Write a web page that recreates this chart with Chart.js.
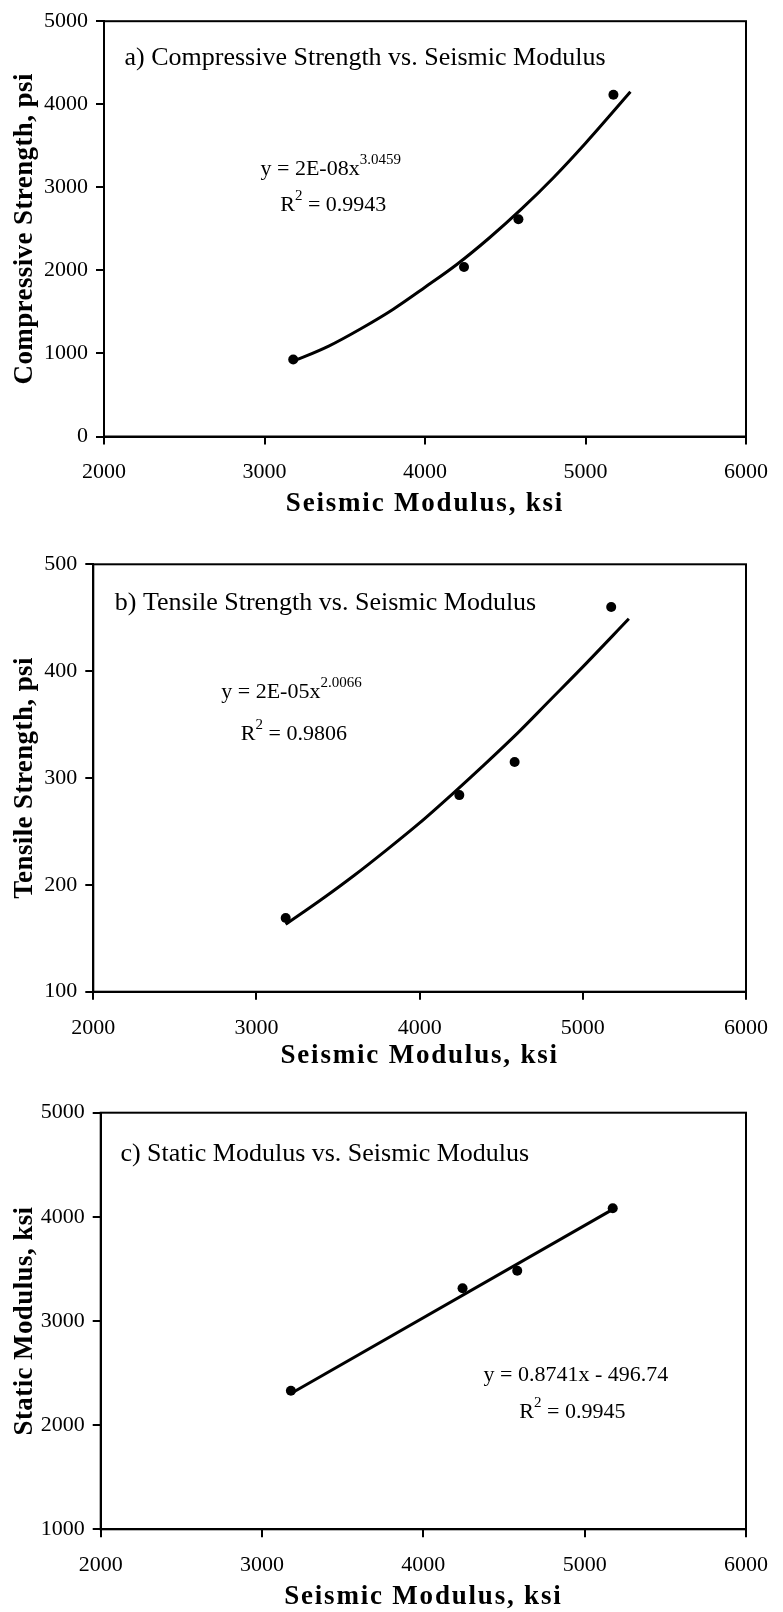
<!DOCTYPE html>
<html>
<head>
<meta charset="utf-8">
<script src="https://cdn.jsdelivr.net/npm/chart.js@4.4.1/dist/chart.umd.min.js"></script>
<style>
  body { margin: 0; background: #fff; width: 783px; height: 1612px; position: relative; overflow: hidden; }
  canvas { position: absolute; left: 0; }
</style>
</head>
<body>
<canvas id="chartA" width="783" height="520" style="top:0px"></canvas>
<canvas id="chartB" width="783" height="560" style="top:520px"></canvas>
<canvas id="chartC" width="783" height="532" style="top:1080px"></canvas>
<script>
// measured values (same specimens in all three panels)
const seismicModulus = [3179, 4243, 4582, 5174];
const compressiveStrength = [928, 2040, 2615, 4115];
const tensileStrength = [169, 284, 315, 460];
const staticModulus = [2331, 3314, 3483, 4082];

// trendlines
const compTrendX = [3179, 3400, 3600, 3800, 4000, 4200, 4400, 4600, 4800, 5000, 5280];
const compTrendY = [905, 1089, 1298, 1530, 1797, 2074, 2390, 2737, 3116, 3531, 4150];
const tensTrendX = [3179, 3400, 3600, 3800, 4000, 4200, 4400, 4600, 4800, 5000, 5282];
const tensTrendY = [163, 186.5, 209, 233, 258, 285, 313, 342, 373, 404, 449];
const statTrendX = [3179, 5174];
const statTrendY = [2304, 4072];

// tick labels
const xTicks = [2000, 3000, 4000, 5000, 6000];
const compTicks = [0, 1000, 2000, 3000, 4000, 5000];
const tensTicks = [100, 200, 300, 400, 500];
const statTicks = [1000, 2000, 3000, 4000, 5000];

const serif = "'Liberation Serif', 'Times New Roman', serif";
const tickFont = { family: serif, size: 22 };
const titleFont = { family: serif, size: 27, weight: 'bold', lineHeight: 1 };

// black box round the plot area
const frame = {
  id: 'frame',
  afterDraw(chart) {
    const a = chart.chartArea, ctx = chart.ctx;
    ctx.save();
    ctx.strokeStyle = '#000';
    ctx.lineWidth = 2;
    ctx.strokeRect(a.left, a.top, a.right - a.left, a.bottom - a.top);
    ctx.restore();
  }
};

// text boxes (panel title, equation, R^2), anchored in data units
const notes = {
  id: 'notes',
  afterDraw(chart, args, opts) {
    const ctx = chart.ctx, xs = chart.scales.x, ys = chart.scales.y;
    ctx.save();
    ctx.fillStyle = '#000';
    ctx.textBaseline = 'middle';
    ctx.textAlign = 'left';
    opts.items.forEach(item => {
      let px = xs.getPixelForValue(item.x);
      const py = ys.getPixelForValue(item.y);
      item.parts.forEach(p => {
        if (p.sup) {
          ctx.font = '15px ' + serif;
          ctx.fillText(p.t, px, py - 9);
        } else {
          ctx.font = item.size + 'px ' + serif;
          ctx.fillText(p.t, px, py);
        }
        px += ctx.measureText(p.t).width;
      });
    });
    ctx.restore();
  }
};

// spread the letters of an axis title a bit, like the original figure
function spacedTitle(spacing) {
  return s => {
    if (s._spaced) return;
    s._spaced = true;
    const orig = s.drawTitle;
    s.drawTitle = function () {
      this.ctx.save();
      this.ctx.letterSpacing = spacing;
      orig.call(this);
      this.ctx.restore();
    };
  };
}

function drawChart(id, o) {
  new Chart(document.getElementById(id), {
    type: 'scatter',
    data: {
      datasets: [
        {
          type: 'line',
          data: o.trendX.map((x, i) => ({ x: x, y: o.trendY[i] })),
          borderColor: '#000',
          borderWidth: 3,
          pointRadius: 0,
          cubicInterpolationMode: 'monotone',
          fill: false
        },
        {
          data: seismicModulus.map((x, i) => ({ x: x, y: o.values[i] })),
          pointRadius: 5,
          pointBackgroundColor: '#000',
          pointBorderColor: '#000',
          pointBorderWidth: 0
        }
      ]
    },
    options: {
      responsive: false,
      animation: false,
      events: [],
      layout: { padding: { top: o.top, right: 25.5, left: 0, bottom: 0 } },
      plugins: {
        legend: { display: false },
        tooltip: { enabled: false },
        notes: { items: o.notes }
      },
      scales: {
        x: {
          type: 'linear',
          min: xTicks[0],
          max: xTicks[xTicks.length - 1],
          afterBuildTicks: s => { s.ticks = xTicks.map(v => ({ value: v })); },
          afterFit: s => { s.height = o.xAxisH; },
          afterUpdate: spacedTitle('1.8px'),
          grid: { drawOnChartArea: false, drawTicks: true, tickLength: 8, color: '#000', lineWidth: 2 },
          border: { display: true, color: '#000', width: 2 },
          ticks: { color: '#000', font: tickFont, padding: 15, maxRotation: 0, autoSkip: false,
                   callback: v => String(v) },
          title: { display: true, text: 'Seismic Modulus, ksi', color: '#000', font: titleFont,
                   padding: { top: 0, bottom: o.xTitlePad } }
        },
        y: {
          type: 'linear',
          min: o.yTicks[0],
          max: o.yTicks[o.yTicks.length - 1],
          afterBuildTicks: s => { s.ticks = o.yTicks.map(v => ({ value: v })); },
          afterFit: s => { s.width = o.yAxisW; },
          afterUpdate: spacedTitle('0.4px'),
          grid: { drawOnChartArea: false, drawTicks: true, tickLength: 8, color: '#000', lineWidth: 2 },
          border: { display: true, color: '#000', width: 2 },
          ticks: { color: '#000', font: tickFont, padding: 8, autoSkip: false,
                   callback: v => String(v) },
          title: { display: true, text: o.yTitle, color: '#000', font: titleFont,
                   padding: { top: 11.5, bottom: 0 } }
        }
      }
    },
    plugins: [frame, notes]
  });
}

drawChart('chartA', {
  values: compressiveStrength, trendX: compTrendX, trendY: compTrendY, yTicks: compTicks,
  yTitle: 'Compressive Strength, psi',
  top: 15.5, xAxisH: 83.5, yAxisW: 104, xTitlePad: 2.5,
  notes: [
    { x: 2128, y: 4558, size: 26, parts: [{ t: 'a) Compressive Strength vs. Seismic Modulus' }] },
    { x: 2975, y: 3217, size: 22, parts: [{ t: 'y = 2E-08x' }, { t: '3.0459', sup: true }] },
    { x: 3098, y: 2783, size: 22, parts: [{ t: 'R' }, { t: '2', sup: true }, { t: ' = 0.9943' }] }
  ]
});

drawChart('chartB', {
  values: tensileStrength, trendX: tensTrendX, trendY: tensTrendY, yTicks: tensTicks,
  yTitle: 'Tensile Strength, psi',
  top: 44.3, xAxisH: 88.3, yAxisW: 93.3, xTitlePad: 10,
  notes: [
    { x: 2132, y: 464, size: 26, parts: [{ t: 'b) Tensile Strength vs. Seismic Modulus' }] },
    { x: 2784, y: 380, size: 22, parts: [{ t: 'y = 2E-05x' }, { t: '2.0066', sup: true }] },
    { x: 2904, y: 341, size: 22, parts: [{ t: 'R' }, { t: '2', sup: true }, { t: ' = 0.9806' }] }
  ]
});

drawChart('chartC', {
  values: staticModulus, trendX: statTrendX, trendY: statTrendY, yTicks: statTicks,
  yTitle: 'Static Modulus, ksi',
  top: 32.7, xAxisH: 82.7, yAxisW: 100.7, xTitlePad: 1,
  notes: [
    { x: 2122, y: 4605, size: 26, parts: [{ t: 'c) Static Modulus vs. Seismic Modulus' }] },
    { x: 4373, y: 2480, size: 22, parts: [{ t: 'y = 0.8741x - 496.74' }] },
    { x: 4595, y: 2128, size: 22, parts: [{ t: 'R' }, { t: '2', sup: true }, { t: ' = 0.9945' }] }
  ]
});
</script>
</body>
</html>
